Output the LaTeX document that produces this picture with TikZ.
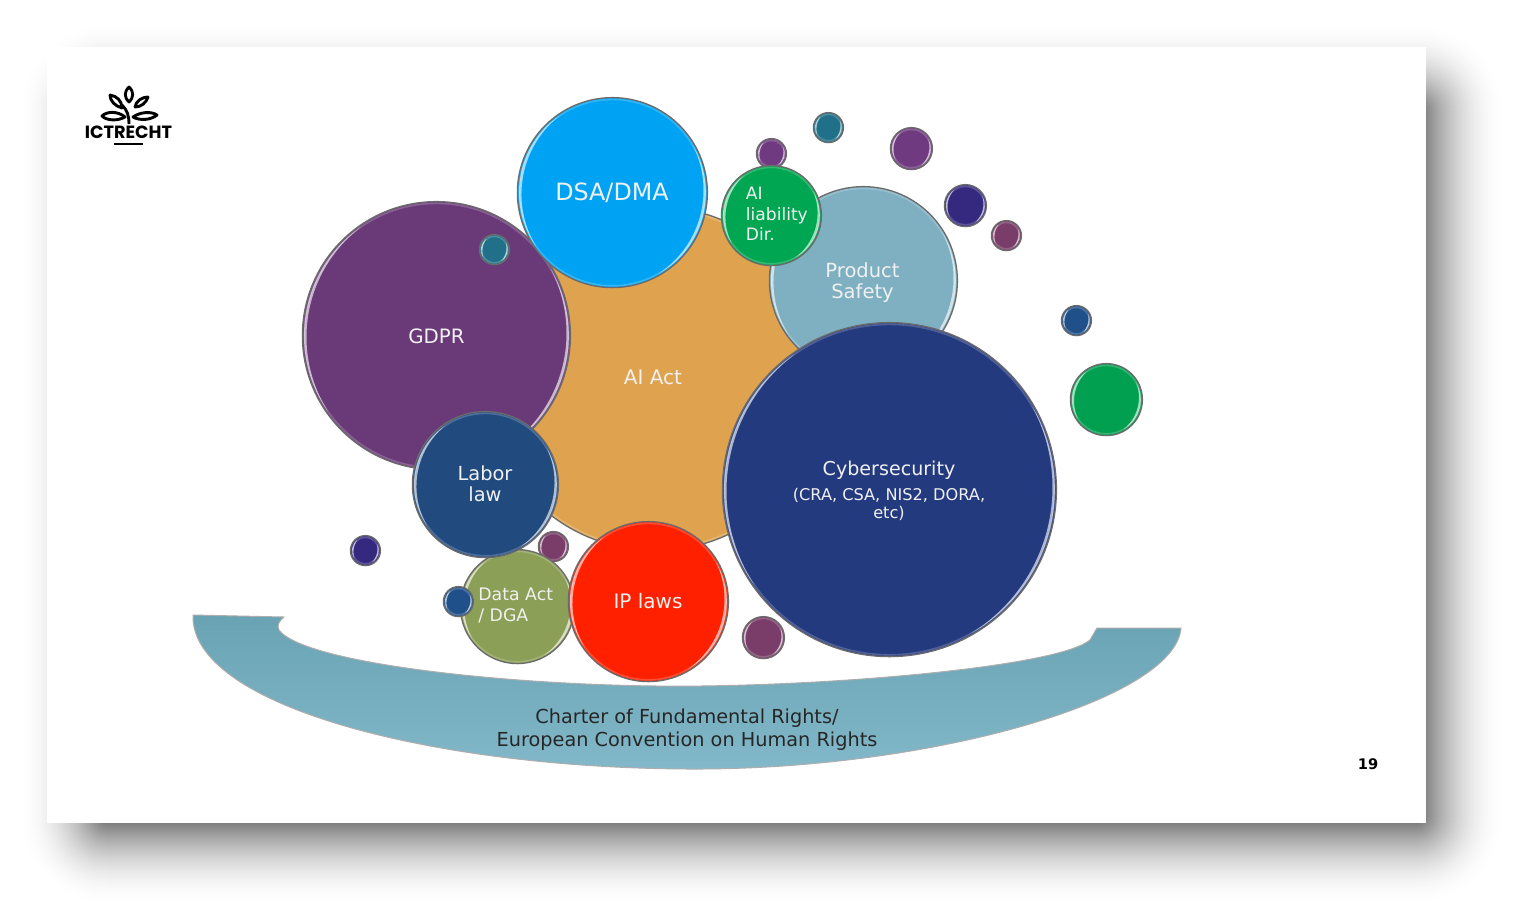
\documentclass[tikz,border=0pt]{standalone}
\usepackage{fontspec}
\setmainfont{DejaVu Sans}
\newfontfamily\logofont{Poppins}
\definecolor{cGDPR}{HTML}{6A3A78}
\definecolor{cDSA}{HTML}{00A3F4}
\definecolor{cAct}{HTML}{DFA34F}
\definecolor{cProd}{HTML}{7EB0C2}
\definecolor{cLiab}{HTML}{00A651}
\definecolor{cCyber}{HTML}{243A7F}
\definecolor{cLabor}{HTML}{214A7F}
\definecolor{cData}{HTML}{8C9F57}
\definecolor{cIP}{HTML}{FF2000}
\definecolor{cTeal}{HTML}{1F7088}
\definecolor{cPurple}{HTML}{703A80}
\definecolor{cPlum}{HTML}{7A3C68}
\definecolor{cIndigo}{HTML}{35297F}
\definecolor{cBlue}{HTML}{20508A}
\definecolor{cGreen}{HTML}{00A050}
\definecolor{bowlTop}{HTML}{69A3B3}
\definecolor{bowlBot}{HTML}{82B8C9}
\tikzset{
  bubble/.style={circle,draw=black!58,line width=0.65pt,inner sep=0pt,outer sep=0pt},
  glint/.style={fill=white,fill opacity=0.62,draw=none},
  rimband/.style={draw=white,draw opacity=0.2,line width=0.8pt},
  lbl/.style={text=white!94!black,align=center,inner sep=0pt},
  leaf/.style={draw=black,line width=1.45pt,line join=round},
}
% name, x, y, r (px), colour
\newcommand\bub[5]{%
  \node[bubble,fill=#5,minimum size=#4*1pt] (#1) at (#2,#3) {};
  \pgfmathsetmacro\bubR{#4*0.5-0.8}%
  \pgfmathsetmacro\bubW{max(0.8,min(1.3,#4*0.03))}%
  \begin{scope}[shift={(#1.center)},x=1pt,y=1pt]
    \draw[rimband] (0,0) circle[radius=\bubR-0.1];
    \fill[glint] (125:\bubR) arc[start angle=125,end angle=215,radius=\bubR]
      -- plot[smooth,domain=1:-1,samples=15,variable=\t] ({170+45*\t}:{\bubR-\bubW*(1-\t*\t)}) -- cycle;
    \fill[glint] (-60:\bubR) arc[start angle=-60,end angle=30,radius=\bubR]
      -- plot[smooth,domain=1:-1,samples=15,variable=\t] ({-15+45*\t}:{\bubR-\bubW*(1-\t*\t)}) -- cycle;
  \end{scope}
}
\begin{document}
\begin{tikzpicture}[x=0.5pt,y=-0.5pt]
\useasboundingbox (0,0) rectangle (1521,918);
\fill[white] (0,0) rectangle (1521,918);
% slide shadow: opaque grey layers, outermost first
\foreach \d in {0,1,...,90}{
  \pgfmathsetmacro\pct{min(50,48*(\d/80)^2)}
  \pgfmathsetmacro\cornerR{max(4,90-\d)*0.5}
  \fill[black!\pct,rounded corners=\cornerR pt]
    (18+\d,22+\d) rectangle (1506-\d,906-\d);
}
\node[draw=none,fill=white,minimum width=689.5pt,minimum height=388pt,inner sep=0pt,outer sep=0pt] (slide) at (736.5,435) {};
% bowl
\path[top color=bowlTop,bottom color=bowlBot,draw=black!32,line width=0.5pt]
  (193,615) -- (284,617) .. controls (278,622) and (277,626) .. (279,630)
  .. controls (305,665) and (530,688) .. (700,686)
  .. controls (860,684) and (1060,665) .. (1090,640)
  -- (1097,628) -- (1181,628)
  .. controls (1175,700) and (930,770) .. (690,769)
  .. controls (430,768) and (190,705) .. (193,615) -- cycle;
\node[text=black!85,align=center,inner sep=0pt,font=\fontsize{9.64}{11.6}\selectfont] (charter) at (687,730) {Charter of Fundamental Rights/\\European Convention on Human Rights};
\begin{scope}[xshift=0.2pt,yshift=-0.3pt]
% large circles
\bub{act}{655}{378}{172}{cAct}
\bub{prod}{863}{280}{94}{cProd}
\bub{gdpr}{436}{335}{134}{cGDPR}
\bub{dot9}{494}{249}{15}{cTeal}
\bub{dsa}{612}{192}{95}{cDSA}
\bub{dot1}{771}{153}{15}{cPurple}
\bub{liab}{771}{215}{50}{cLiab}
\bub{cyber}{889}{489}{167}{cCyber}
\bub{dot11}{553}{546}{15}{cPlum}
\bub{data}{517}{606}{57}{cData}
\bub{labor}{485}{484}{73}{cLabor}
\bub{ip}{648}{601}{80}{cIP}
% small circles
\bub{dot2}{828}{127}{15}{cTeal}
\bub{dot3}{911}{148}{21}{cPurple}
\bub{dot4}{965}{205}{21}{cIndigo}
\bub{dot5}{1006}{235}{15}{cPlum}
\bub{dot6}{1076}{320}{15}{cBlue}
\bub{dot7}{1106}{399}{36}{cGreen}
\bub{dot8}{365}{550}{15}{cIndigo}
\bub{dot10}{458}{601}{15}{cBlue}
\bub{dot12}{763}{637}{21}{cPlum}
\end{scope}
% labels
\node[lbl,font=\fontsize{11.9}{13}\selectfont] (tDSA) at (612,192.5) {DSA/DMA};
\node[lbl,font=\fontsize{9.9}{11}\selectfont] (tGDPR) at (436.5,336) {GDPR};
\node[lbl,font=\fontsize{10}{11}\selectfont] (tAct) at (653,377) {AI Act};
\node[lbl,font=\fontsize{9.75}{10.5}\selectfont] (tProd) at (862.5,282.5) {Product\\Safety};
\node[lbl,align=left,anchor=west,font=\fontsize{8.55}{10.3}\selectfont] (tLiab) at (745.5,213.8) {AI\\liability\\Dir.};
\node[lbl,font=\fontsize{9.7}{10.5}\selectfont] (tLabor) at (485,484) {Labor\\law};
\node[lbl,align=left,anchor=west,font=\fontsize{8.65}{10.8}\selectfont] (tData) at (478,605.5) {Data Act\\/ DGA};
\node[lbl,font=\fontsize{10}{11}\selectfont] (tIP) at (648,601) {IP laws};
\node[lbl,font=\fontsize{9.55}{11}\selectfont] (tCyb) at (889,470) {Cybersecurity};
\node[lbl,font=\fontsize{8.08}{8.8}\selectfont] (tCyb2) at (889,504.5) {(CRA, CSA, NIS2, DORA,\\etc)};
\node[text=black,inner sep=0pt,font=\fontsize{7.3}{8}\selectfont\bfseries] (page) at (1368,764) {19};
% logo
\draw[leaf] (129,87) .. controls (124,92) and (124,97) .. (129,102) .. controls (134,97) and (134,92) .. (129,87) -- cycle;
\draw[leaf] (110,95) .. controls (110,101) and (115,106) .. (122,108) .. controls (122,101) and (117,96) .. (110,95) -- cycle;
\draw[leaf] (148,97) .. controls (142,97) and (136,101) .. (135,107) .. controls (141,107) and (146,103) .. (148,97) -- cycle;
\draw[leaf] (102,116) .. controls (107,111) and (118,111) .. (125,117) .. controls (118,121) and (107,121) .. (102,116) -- cycle;
\draw[leaf] (157,115) .. controls (151,111) and (140,112) .. (133,117) .. controls (140,121) and (151,120) .. (157,115) -- cycle;
\draw[black,line width=1.45pt] (129,124) .. controls (129,115) and (127,110) .. (122,105);
\node[inner sep=0pt,text=black,font=\fontsize{8.85}{9}\logofont] (logo) at (128.5,132.5) {\textbf{ICTRECHT}};
\coordinate (ulA) at (114,144);
\coordinate (ulB) at (143,144);
\draw[black,line width=0.9pt] (ulA) -- (ulB);
\end{tikzpicture}
\end{document}
